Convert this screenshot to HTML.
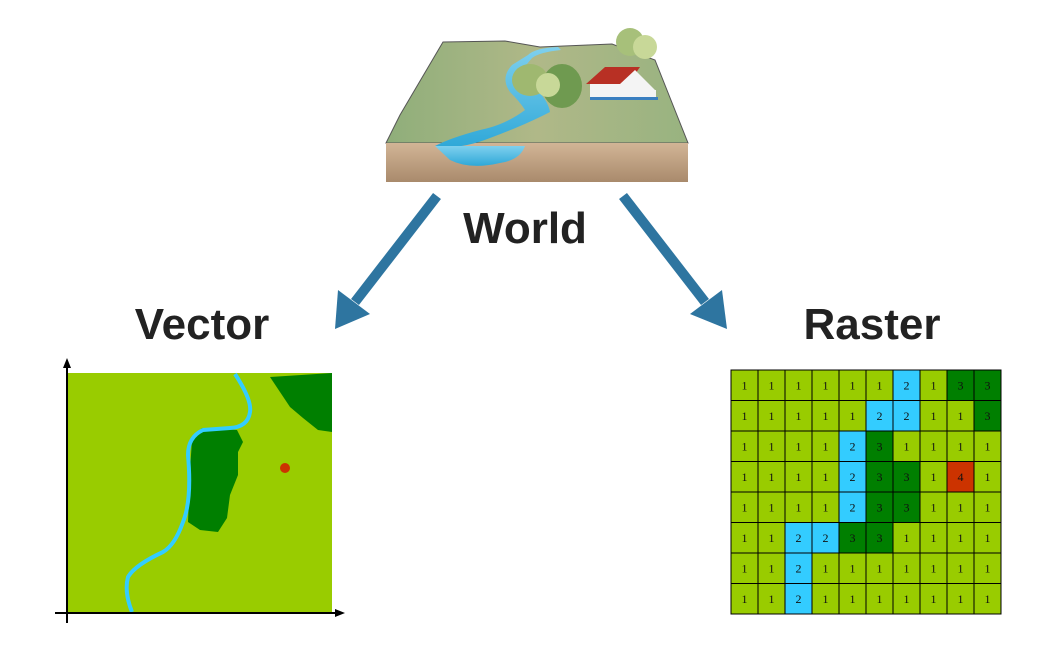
<!DOCTYPE html>
<html><head><meta charset="utf-8"><style>
html,body{margin:0;padding:0;background:#fff;}
svg{display:block;}
.lbl{font-family:"Liberation Sans",sans-serif;}
.num{font-family:"Liberation Serif",serif;font-size:12px;}
</style></head><body>
<svg width="1058" height="658" viewBox="0 0 1058 658" xmlns="http://www.w3.org/2000/svg">
<defs>
<linearGradient id="soil" x1="0" y1="0" x2="0" y2="1"><stop offset="0" stop-color="#d2b596"/><stop offset="1" stop-color="#a98a6c"/></linearGradient>
<linearGradient id="grass" x1="0" y1="0" x2="1" y2="0"><stop offset="0" stop-color="#8fae7a"/><stop offset="0.5" stop-color="#b0b888"/><stop offset="1" stop-color="#98b380"/></linearGradient>
<linearGradient id="water" x1="0" y1="0" x2="0" y2="1"><stop offset="0" stop-color="#7fd0ee"/><stop offset="1" stop-color="#2fa8d8"/></linearGradient>
</defs>
<!-- World -->
<path d="M443,42 L505,41 L540,47 L612,44 L655,60 L688,143 L386,143 L400,115 Z" fill="url(#grass)" stroke="#555" stroke-width="1"/>
<rect x="386" y="143" width="302" height="39" fill="url(#soil)"/>
<path d="M435,146 Q460,150 490,138 Q525,125 550,112 Q548,100 535,88 Q515,78 522,70 L532,58 Q540,52 561,50 L558,47 Q535,48 528,55 L512,65 Q500,78 510,92 Q520,102 525,110 Q505,125 480,130 Q450,138 435,146 Z" fill="url(#water)"/>
<path d="M435,146 L525,146 Q520,160 500,163 Q470,170 450,160 Z" fill="url(#water)"/>
<ellipse cx="530" cy="80" rx="18" ry="16" fill="#9fb870"/>
<ellipse cx="562" cy="86" rx="20" ry="22" fill="#6f9a50"/>
<ellipse cx="548" cy="85" rx="12" ry="12" fill="#c8d898"/>
<ellipse cx="630" cy="42" rx="14" ry="14" fill="#a7c07a"/>
<ellipse cx="645" cy="47" rx="12" ry="12" fill="#c8d898"/>
<polygon points="586,84 605,67 640,67 628,84" fill="#b83024"/>
<rect x="590" y="84" width="38" height="14" fill="#f4f4f4"/>
<polygon points="620,84 635,70 655,90 620,90" fill="#f4f4f4"/>
<rect x="620" y="90" width="36" height="10" fill="#f4f4f4"/>
<rect x="590" y="97" width="68" height="3" fill="#3a7fc0"/>
<!-- arrows -->
<g fill="#2e75a0" stroke="#2e75a0">
<line x1="437" y1="196" x2="355" y2="302" stroke-width="10"/>
<polygon points="335,329 338,290 370,314" stroke="none"/>
<line x1="623" y1="196" x2="705" y2="302" stroke-width="10"/>
<polygon points="727,329 690,314 722,290" stroke="none"/>
</g>
<text class="lbl" x="525" y="243" text-anchor="middle" font-size="44" font-weight="bold" fill="#222">World</text>
<text class="lbl" x="202" y="339" text-anchor="middle" font-size="44" font-weight="bold" fill="#222">Vector</text>
<text class="lbl" x="872" y="339" text-anchor="middle" font-size="44" font-weight="bold" fill="#222">Raster</text>
<!-- Vector -->
<rect x="68" y="373" width="264" height="239" fill="#99cc00"/>
<path d="M270,377 L332,373 L332,432 L318,430 L303,418 L290,407 L280,392 Z" fill="#007f00"/>
<path d="M202,428 L237,430 L243,442 L238,452 L238,475 L230,495 L227,518 L218,532 L200,530 L188,522 L190,470 L192,440 Z" fill="#007f00"/>
<path d="M235,374 Q252,400 250,412 Q248,427 230,428 L203,430 Q188,437 188,455 Q192,500 183,522 Q175,545 163,552 Q135,565 128,577 Q124,592 132,612" fill="none" stroke="#33ccff" stroke-width="4"/>
<circle cx="285" cy="468" r="5" fill="#cc3300"/>
<g stroke="#000" stroke-width="2">
<line x1="67" y1="366" x2="67" y2="623"/>
<line x1="55" y1="613" x2="338" y2="613"/>
</g>
<polygon points="67,358 63,368 71,368" fill="#000"/>
<polygon points="345,613 335,609 335,617" fill="#000"/>
<!-- Raster -->
<g id="grid" text-anchor="middle"></g>
<script>
var d=["1111112133","1111122113","1111231111","1111233141","1111233111","1122331111","1121111111","1121111111"];
var col={"1":"#99cc00","2":"#33ccff","3":"#007f00","4":"#cc3300"};
var g=document.getElementById("grid"),ns="http://www.w3.org/2000/svg";
var x0=731,y0=370,w=27,h=30.5;
for(var r=0;r<8;r++)for(var c=0;c<10;c++){var v=d[r][c];
var R=document.createElementNS(ns,"rect");R.setAttribute("x",x0+c*w);R.setAttribute("y",y0+r*h);R.setAttribute("width",w);R.setAttribute("height",h);R.setAttribute("fill",col[v]);R.setAttribute("stroke","#000");R.setAttribute("stroke-width","1");g.appendChild(R);
var T=document.createElementNS(ns,"text");T.setAttribute("x",x0+c*w+w/2);T.setAttribute("y",y0+r*h+h/2+4);T.setAttribute("class","num");T.setAttribute("fill","#111");T.textContent=v;g.appendChild(T);}
</script>
</svg>
</body></html>
